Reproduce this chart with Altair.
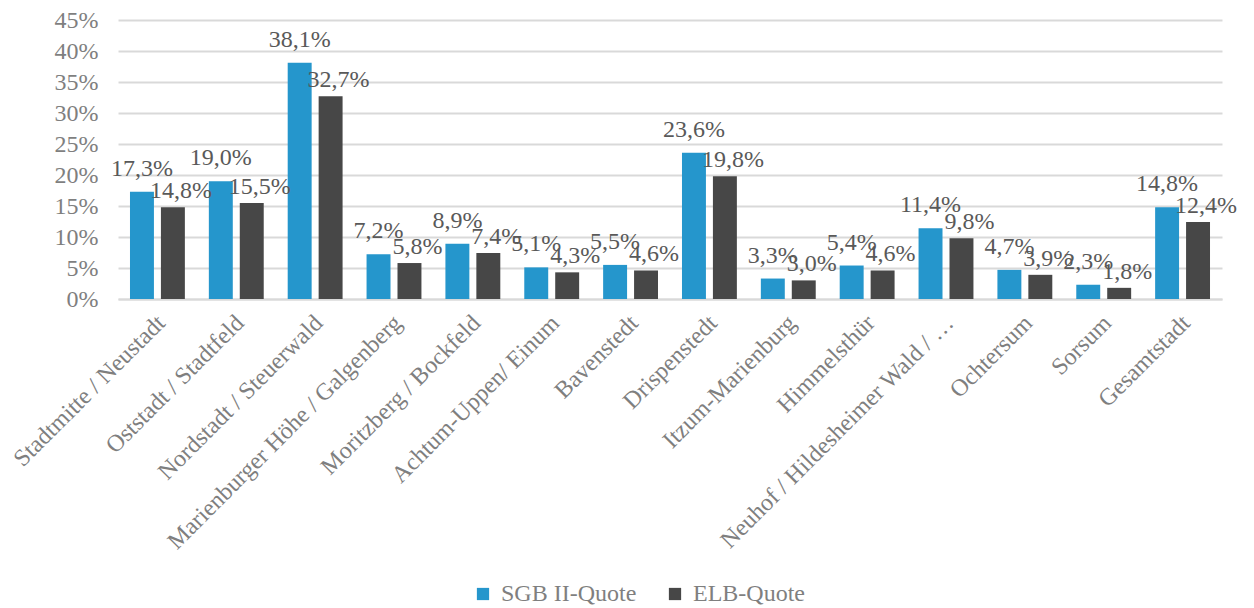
import altair as alt
import pandas as pd

categories = [
    "Stadtmitte / Neustadt", "Oststadt / Stadtfeld", "Nordstadt / Steuerwald",
    "Marienburger Höhe / Galgenberg", "Moritzberg / Bockfeld", "Achtum-Uppen/ Einum",
    "Bavenstedt", "Drispenstedt", "Itzum-Marienburg", "Himmelsthür",
    "Neuhof / Hildesheimer Wald / …", "Ochtersum", "Sorsum", "Gesamtstadt",
]
sgb = [17.3, 19.0, 38.1, 7.2, 8.9, 5.1, 5.5, 23.6, 3.3, 5.4, 11.4, 4.7, 2.3, 14.8]
elb = [14.8, 15.5, 32.7, 5.8, 7.4, 4.3, 4.6, 19.8, 3.0, 4.6, 9.8, 3.9, 1.8, 12.4]
series = ["SGB II-Quote", "ELB-Quote"]
colors = ["#2596cc", "#474747"]
y_ticks = [0, 0.05, 0.10, 0.15, 0.20, 0.25, 0.30, 0.35, 0.40, 0.45]

rows = []
for c, a, b in zip(categories, sgb, elb):
    rows.append({"cat": c, "series": series[0], "v": a / 100})
    rows.append({"cat": c, "series": series[1], "v": b / 100})
df = pd.DataFrame(rows)

FONT = "Liberation Serif"

x_enc = alt.X(
    "cat:N", sort=categories, title=None,
    scale=alt.Scale(paddingInner=0.304, paddingOuter=0.152),
    axis=alt.Axis(labelAngle=-45, labelAlign="right", labelBaseline="middle",
                  labelPadding=20, labelOffset=4, ticks=False, domain=True,
                  domainColor="#d9d9d9", domainWidth=2, labelLimit=400, grid=False),
)
xo_enc = alt.XOffset("series:N", sort=series,
                     scale=alt.Scale(domain=series, paddingInner=0.226, paddingOuter=0))
y_enc = alt.Y(
    "v:Q", title=None,
    scale=alt.Scale(domain=[0, 0.45], nice=False, zero=True),
    axis=alt.Axis(format=".0%", values=y_ticks, domain=False, ticks=False,
                  grid=True, gridColor="#d9d9d9", gridWidth=2, labelPadding=20),
)

base = alt.Chart(df)

bars = base.mark_bar().encode(
    x=x_enc, xOffset=xo_enc, y=y_enc,
    color=alt.Color(
        "series:N", sort=series,
        scale=alt.Scale(domain=series, range=colors),
        legend=alt.Legend(title=None, orient="none", legendX=353, legendY=562,
                          direction="horizontal", symbolType="square",
                          symbolSize=150, symbolStrokeWidth=0, labelFont=FONT,
                          labelFontSize=24, labelColor="#7f7f7f", columnPadding=26,
                          labelOffset=6, labelLimit=300),
    ),
)

lbl = "replace(format(datum.v, '.1%'), '.', ',')"

text_sgb = base.transform_filter(alt.datum.series == series[0]).transform_calculate(
    lbl=lbl
).mark_text(font=FONT, fontSize=24, color="#595959", baseline="alphabetic", dy=-16).encode(
    x=x_enc, xOffset=xo_enc, y=y_enc, text="lbl:N"
)
text_elb = base.transform_filter(alt.datum.series == series[1]).transform_calculate(
    lbl=lbl
).mark_text(font=FONT, fontSize=24, color="#595959", baseline="alphabetic", dy=-9, dx=8).encode(
    x=x_enc, xOffset=xo_enc, y=y_enc, text="lbl:N"
)

chart = alt.layer(bars, text_sgb, text_elb).properties(
    width=1104, height=279, autosize="none",
    padding={"left": 110, "top": 12, "right": 24, "bottom": 309},
).configure(font=FONT).configure_axis(
    labelFont=FONT, labelFontSize=24, labelColor="#7f7f7f",
).configure_legend(labelFont=FONT).configure_text(font=FONT).configure_view(stroke=None)

chart.save("out.html", embed_options={"renderer": "svg", "actions": False})
